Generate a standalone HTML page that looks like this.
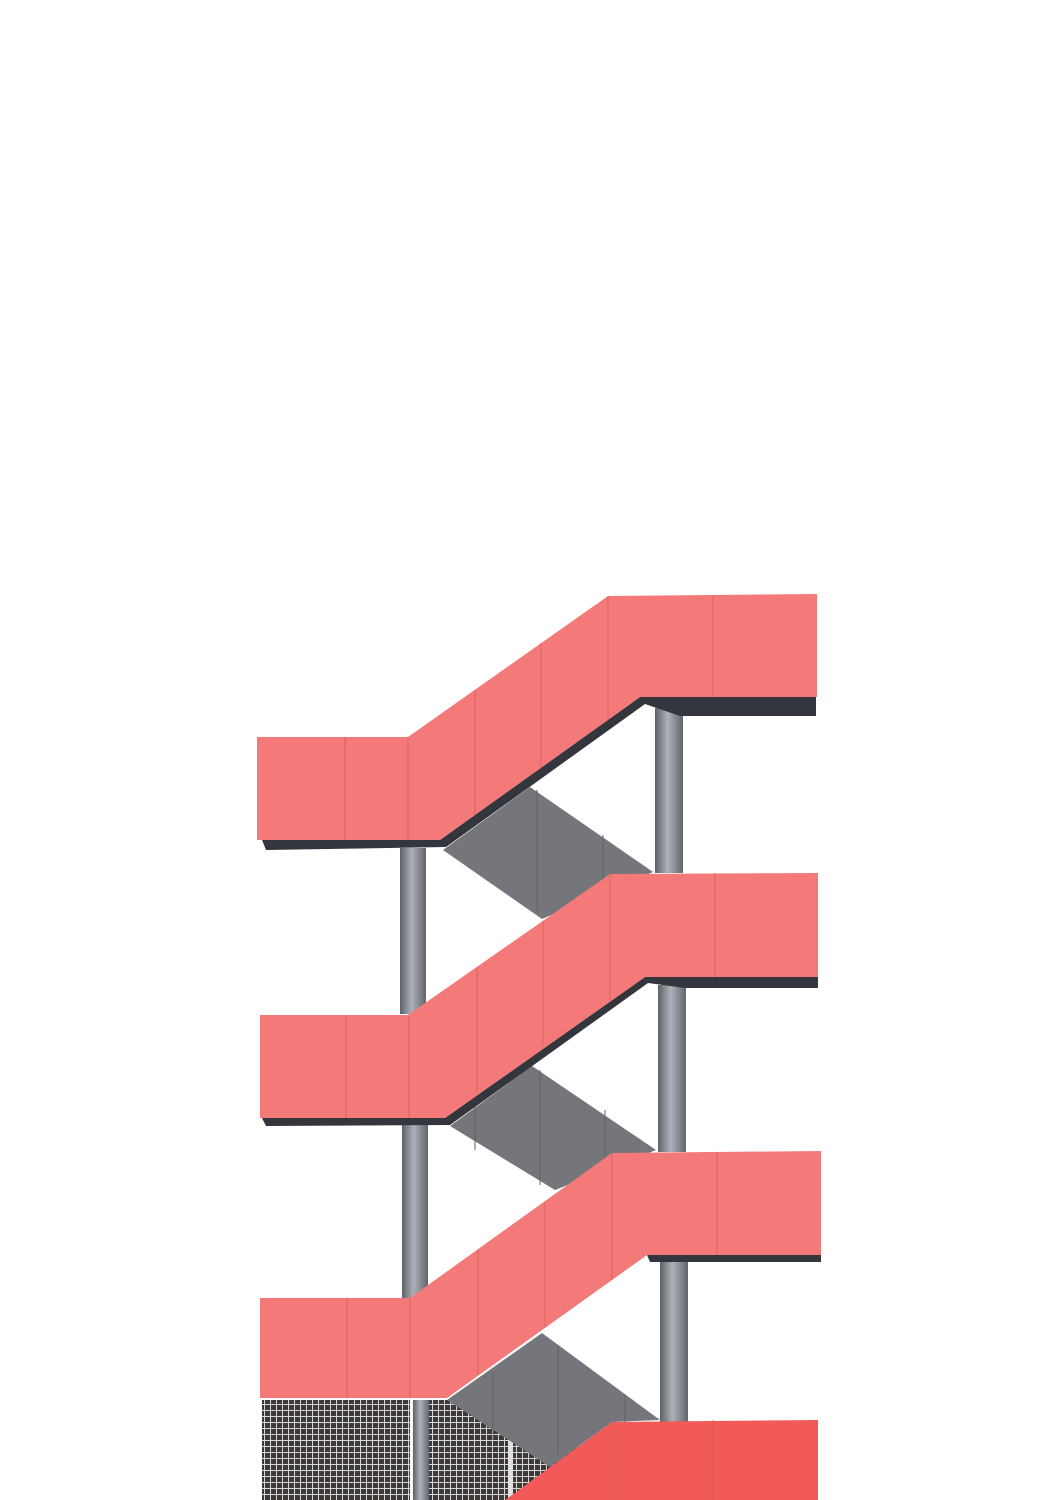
<!DOCTYPE html>
<html><head><meta charset="utf-8"><style>
html,body{margin:0;padding:0;background:#fff;}
svg{display:block;}
</style></head><body>
<svg width="1061" height="1500" viewBox="0 0 1061 1500" xmlns="http://www.w3.org/2000/svg">
<defs>
<linearGradient id="pole" x1="0" x2="1" y1="0" y2="0">
<stop offset="0" stop-color="#5d6168"/><stop offset="0.45" stop-color="#aeb2b8"/><stop offset="1" stop-color="#62656c"/>
</linearGradient>
<pattern id="mesh" width="6" height="6" patternUnits="userSpaceOnUse">
<rect width="6" height="6" fill="#d8d8d8"/><rect x="1" y="1" width="5" height="5" fill="#3e3936"/>
</pattern>
</defs>
<rect width="1061" height="1500" fill="#fff"/>

<!-- mesh -->
<rect x="262" y="1400" width="148" height="100" fill="url(#mesh)"/>
<rect x="428" y="1400" width="150" height="100" fill="url(#mesh)"/>
<rect x="508" y="1435" width="5" height="65" fill="#e0e0e0"/>

<!-- gray undersides -->
<polygon points="443,850 530,787 653,872 542,919" fill="#74767c"/>
<polygon points="450,1126 532,1066 656,1150 555,1190" fill="#74767c"/>
<polygon points="447,1400 542,1333 660,1420 612,1422 550,1467" fill="#74767c"/>
<g stroke="#5f6166" stroke-width="1">
<line x1="537" y1="790" x2="537" y2="910"/><line x1="603" y1="835" x2="603" y2="885"/>
<line x1="475" y1="1105" x2="475" y2="1150"/><line x1="540" y1="1070" x2="540" y2="1185"/><line x1="605" y1="1110" x2="605" y2="1170"/>
<line x1="493" y1="1372" x2="493" y2="1440"/><line x1="558" y1="1345" x2="558" y2="1455"/><line x1="625" y1="1395" x2="625" y2="1422"/>
</g>

<!-- poles -->
<rect x="400" y="848" width="26" height="166" fill="url(#pole)"/>
<rect x="655" y="708" width="28" height="165" fill="url(#pole)"/>
<rect x="402" y="1123" width="26" height="176" fill="url(#pole)"/>
<rect x="658" y="985" width="28" height="167" fill="url(#pole)"/>
<rect x="413" y="1400" width="16" height="100" fill="url(#pole)"/>
<rect x="660" y="1260" width="28" height="162" fill="url(#pole)"/>

<!-- flight 1 -->
<polygon points="262,840 440,840 640,697 816,697 816,716 680,716 645,704 446,847 266,850" fill="#33363c"/>
<polygon points="257,737 408,737 608,596 817,594 817,697 640,697 440,840 257,840" fill="#f47a79"/>
<!-- flight 2 -->
<polygon points="262,1118 445,1118 645,977 818,977 818,988 685,988 648,983 450,1125 266,1126" fill="#33363c"/>
<polygon points="260,1015 408,1015 610,874 818,873 818,977 645,977 445,1118 260,1118" fill="#f47a79"/>
<!-- flight 3 -->
<polygon points="647,1255 821,1255 821,1262 650,1262" fill="#33363c"/>
<polygon points="260,1298 410,1298 612,1153 821,1151 821,1255 647,1255 447,1398 260,1398" fill="#f47a79"/>
<!-- flight 4 -->
<polygon points="505,1500 612,1422 818,1420 818,1500" fill="#f25a59"/>

<!-- seams -->
<g stroke="#d9605f" stroke-width="1.2" opacity="0.8">
<line x1="345" y1="737" x2="345" y2="840"/><line x1="408" y1="737" x2="408" y2="840"/>
<line x1="475" y1="690" x2="475" y2="815"/><line x1="541" y1="643" x2="541" y2="768"/>
<line x1="608" y1="596" x2="608" y2="720"/><line x1="713" y1="595" x2="713" y2="697"/>
<line x1="346" y1="1015" x2="346" y2="1118"/><line x1="409" y1="1015" x2="409" y2="1118"/>
<line x1="477" y1="968" x2="477" y2="1093"/><line x1="543" y1="921" x2="543" y2="1046"/>
<line x1="610" y1="874" x2="610" y2="1000"/><line x1="715" y1="873" x2="715" y2="977"/>
<line x1="347" y1="1298" x2="347" y2="1398"/><line x1="410" y1="1298" x2="410" y2="1398"/>
<line x1="478" y1="1250" x2="478" y2="1374"/><line x1="545" y1="1202" x2="545" y2="1327"/>
<line x1="612" y1="1153" x2="612" y2="1280"/><line x1="717" y1="1152" x2="717" y2="1255"/>
<line x1="612" y1="1422" x2="612" y2="1500"/><line x1="713" y1="1420" x2="713" y2="1500"/>
</g>
</svg>
</body></html>
